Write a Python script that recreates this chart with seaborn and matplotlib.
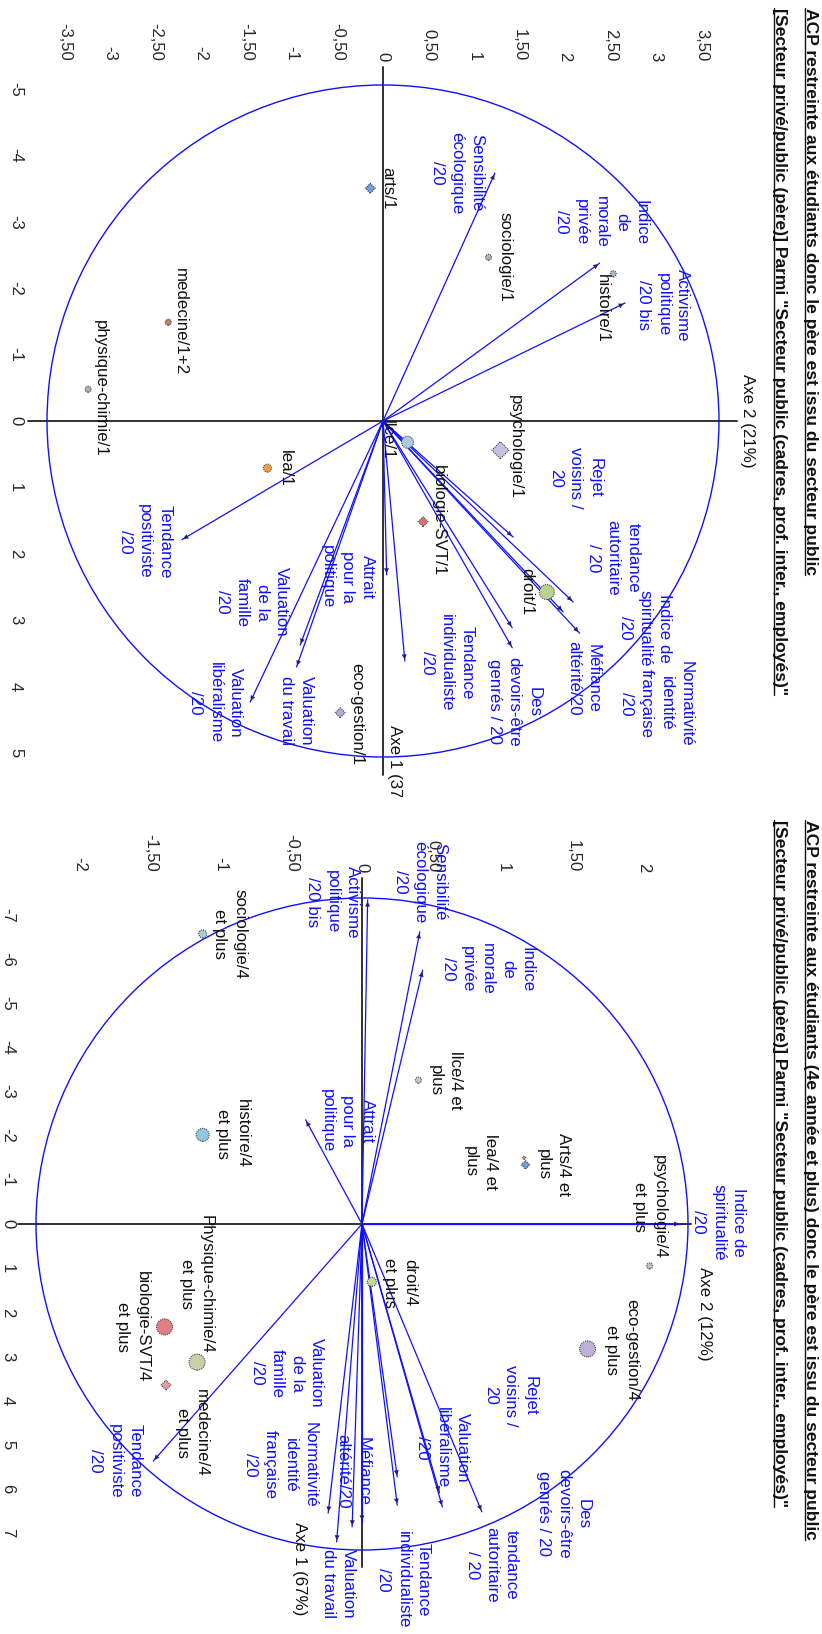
import numpy as np
import pandas as pd
import matplotlib
matplotlib.use("Agg")
import matplotlib.pyplot as plt
import seaborn as sns
from matplotlib.patches import Ellipse
from matplotlib.lines import Line2D

sns.set_style("white")
plt.rcParams["font.family"] = ["Liberation Sans", "DejaVu Sans"]

# ------------------------------------------------------------------ data
title_top = "ACP restreinte aux étudiants donc le père est issu du secteur public"
title_bot = "ACP restreinte aux étudiants (4e année et plus) donc le père est issu du secteur public"
subtitle = '[Secteur privé/public (père)] Parmi "Secteur public (cadres, prof. inter., employés)"'
axe1_top, axe2_top = "Axe 1 (37%)", "Axe 2 (21%)"
axe1_bot, axe2_bot = "Axe 1 (67%)", "Axe 2 (12%)"

var_names = ["Sensibilité\nécologique\n/20", "Indice\nde\nmorale\nprivée\n/20",
             "Activisme\npolitique\n/20 bis", "Tendance\npositiviste\n/20",
             "Attrait\npour la\npolitique", "Valuation\nde la\nfamille\n/20",
             "Valuation\ndu travail", "Valuation\nlibéralisme\n/20",
             "Tendance\nindividualiste\n/20", "Rejet\nvoisins /\n20",
             "tendance\nautoritaire\n/ 20", "Indice de\nspiritualité\n/20",
             "Normativité\nidentité\nfrançaise\n/20", "Méfiance\naltérité/20",
             "Des\ndevoirs-être\ngenrés / 20"]

# variable coordinates (Axe 2 , Axe 1) - plot 1
var_ax2_top = [1.23, 2.38, 2.66, -2.21, 0.04, -0.91, -0.95, -1.46, 0.24, 1.43, 2.09, 1.98, 1.42, 2.16, 1.42]
var_ax1_top = [-3.74, -2.38, -1.78, 1.79, 2.32, 3.38, 3.71, 4.24, 3.62, 1.75, 2.73, 2.88, 3.12, 3.20, 3.42]
# plot 2
var_ax2_bot = [0.41, 0.43, 0.04, -1.48, -0.40, -0.24, -0.18, 0.55, 0.25, 0.25, 0.85, 2.26, 0.00, -0.07, 0.57]
var_ax1_bot = [-6.62, -5.75, -7.34, 5.37, -2.36, 6.55, 7.20, 6.09, 6.37, 5.73, 6.52, 0.00, 6.75, 6.86, 6.41]

ind_top = ["arts/1", "sociologie/1", "histoire/1", "medecine/1+2", "physique-chimie/1",
           "psychologie/1", "llce/1", "lea/1", "biologie-SVT/1", "droit/1", "eco-gestion/1"]
ind_ax2_top = [-0.14, 1.16, 2.53, -2.36, -3.24, 1.29, 0.27, -1.27, 0.44, 1.80, -0.47]
ind_ax1_top = [-3.51, -2.47, -2.22, -1.49, -0.48, 0.44, 0.32, 0.71, 1.52, 2.58, 4.40]

ind_bot = ["sociologie/4\net plus", "histoire/4\net plus", "llce/4 et\nplus", "Arts/4 et\nplus",
           "lea/4 et\nplus", "psychologie/4\net plus", "eco-gestion/4\net plus", "droit/4\net plus",
           "Physique-chimie/4\net plus", "biologie-SVT/4\net plus", "medecine/4\net plus"]
ind_ax2_bot = [-1.13, -1.13, 0.40, 1.16, 1.15, 2.04, 1.60, 0.07, -1.17, -1.40, -1.39]
ind_ax1_bot = [-6.57, -2.02, -3.26, -1.34, -1.50, 0.95, 2.83, 1.31, 3.13, 2.33, 3.65]

ticks_ax2_top = [-3.5, -3, -2.5, -2, -1.5, -1, -0.5, 0, 0.5, 1, 1.5, 2, 2.5, 3, 3.5]
ticklab_ax2_top = ["-3,50", "-3", "-2,50", "-2", "-1,50", "-1", "-0,50", "0", "0,50", "1", "1,50", "2", "2,50", "3", "3,50"]
ticks_ax1_top = [-5, -4, -3, -2, -1, 0, 1, 2, 3, 4, 5]
ticks_ax2_bot = [-2, -1.5, -1, -0.5, 0, 0.5, 1, 1.5, 2]
ticklab_ax2_bot = ["-2", "-1,50", "-1", "-0,50", "0", "0,50", "1", "1,50", "2"]
ticks_ax1_bot = [-7, -6, -5, -4, -3, -2, -1, 0, 1, 2, 3, 4, 5, 6, 7]

# ------------------------------------------------------------------ styles / layout
W, H = 822, 1634
fig = plt.figure(figsize=(W / 100, H / 100), dpi=100)
BLUE = "#1010ff"
FS = 12.2

off_var_top = [(-38, 0), (2, -41), (38, 2), (-37, 2), (-39, 2), (-48, -43), (0, 44), (-35, 1), (42, 2),
               (62, -59), (40, -44), (82, 16), (144, 76), (4, 45), (2, 54)]
off_var_bot = [(0, -50), (65, -1), (-35, 2), (-38, 0), (42, 1), (-41, -140), (2, 42), (3, -45), (6, 75),
               (113, -81), (10, 53), (38, -2), (-82, -57), (1, -55), (121, 7)]
off_ind_top = [(17, 0), (16, 0), (-11, 35), (12, -1), (12, -1), (15, -3), (-20, -2), (18, 0), (15, -1), (-20, 0), (17, 1)]
off_ind_bot = [(27, 0), (30, -1), (27, 0), (28, 0), (-44, 4), (0, -59), (34, 1), (28, 1), (-1, -78), (-32, 0), (26, 48)]

col_top = ["#6fa0dc", "#b0b0b0", "#a8b8c8", "#c08070", "#a8b898", "#c8c0e0", "#b0c8e8", "#f0a040",
           "#e07070", "#b8d090", "#b8a8d8"]
size_top = [7, 6, 6, 6, 6, 12, 12, 8, 7, 15, 7]
mark_top = ["D", "o", "o", "o", "o", "D", "o", "o", "D", "o", "D"]
col_bot = ["#a8d0d0", "#90c8e0", "#c8c8c8", "#6f9fd8", "#f0a040", "#c0c0c0", "#c0b0d8", "#c8d890",
           "#c8d0a8", "#e08080", "#e0a0a0"]
size_bot = [8, 13, 6, 6, 3, 6, 16, 9, 16, 16, 7]
mark_bot = ["o", "o", "o", "D", "o", "o", "o", "o", "o", "o", "D"]


def make_axes(left, top, right, bottom, origin, scale):
    ax = fig.add_axes([left / W, 1 - bottom / H, (right - left) / W, (bottom - top) / H])
    ax.set_facecolor("none")
    ox, oy = origin
    sx, sy = scale
    ax.set_xlim((left - ox) / sx, (right - ox) / sx)
    ax.set_ylim((bottom - oy) / sy, (top - oy) / sy)
    for s in ax.spines.values():
        s.set_visible(False)
    return ax


def draw_panel(ax, v2, v1, offv, iv2, iv1, inames, offi, cols, sizes, marks,
               xt, xtl, yt, radii, hline, vline, ypad):
    # ticks
    ax.xaxis.tick_top()
    ax.set_xticks(xt, xtl)
    ax.set_yticks(yt, [str(t) for t in yt])
    ax.tick_params(axis="x", length=0, pad=2, labelsize=12, rotation=-90)
    ax.tick_params(axis="y", length=0, pad=ypad, labelsize=12, rotation=-90)
    for t in ax.get_yticklabels():
        t.set_va("center")
    # axes lines
    ax.plot(hline, [0, 0], color="#303030", lw=1.4, clip_on=False, zorder=1)
    ax.plot([0, 0], vline, color="#303030", lw=1.4, clip_on=False, zorder=1)
    # correlation circle
    ax.add_patch(Ellipse((0, 0), 2 * radii[0], 2 * radii[1], fill=False, ec=BLUE, lw=1.0, zorder=2))
    # variable arrows
    for x, y, name, (dx, dy) in zip(v2, v1, var_names, offv):
        ax.plot([0, x], [0, y], color=BLUE, lw=0.9, zorder=3)
        ax.annotate("", xy=(x, y), xytext=(0, 0),
                    arrowprops=dict(arrowstyle="-|>", fc="#202070", ec="none",
                                    mutation_scale=9, shrinkA=0, shrinkB=0), zorder=4)
        ax.annotate(name, xy=(x, y), xytext=(dx, -dy), textcoords="offset pixels",
                    rotation=-90, ha="center", va="center", color=BLUE, fontsize=FS,
                    linespacing=1.4, multialignment="center", zorder=5)
    # individuals
    df = pd.DataFrame({"ax2": iv2, "ax1": iv1, "name": inames})
    sns.scatterplot(data=df, x="ax2", y="ax1", hue="name", palette=dict(zip(inames, cols)),
                    style="name", markers=dict(zip(inames, marks)),
                    s=[(d * 0.72) ** 2 for d in sizes], edgecolor="#404040", linewidth=0.8,
                    linestyle=(0, (1, 1)), legend=False, ax=ax, zorder=6)
    for x, y, name, (dx, dy) in zip(iv2, iv1, inames, offi):
        ax.annotate(name, xy=(x, y), xytext=(dx, -dy), textcoords="offset pixels",
                    rotation=-90, ha="center", va="center", color="#111111", fontsize=FS,
                    linespacing=1.4, multialignment="center", zorder=7)
    ax.set_xlabel("")
    ax.set_ylabel("")


# ---- top panel
axT = make_axes(30, 64, 822, 797, (383, 421), (91, 66.3))
draw_panel(axT, var_ax2_top, var_ax1_top, off_var_top, ind_ax2_top, ind_ax1_top, ind_top, off_ind_top,
           col_top, size_top, mark_top, ticks_ax2_top, ticklab_ax2_top, ticks_ax1_top,
           (3.692, 5.068), [-3.90, 3.89], [-5.34, 5.34], 5)
axT.text(4.0, 0.0, axe2_top, rotation=-90, ha="center", va="center", fontsize=FS, color="#111111")
axT.text(0.13, 4.585, axe1_top, rotation=-90, ha="center", va="top", fontsize=FS, color="#111111",
         clip_on=True)

# ---- bottom panel
axB = make_axes(22, 875, 822, 1634, (362, 1224), (141, 44.14))
draw_panel(axB, var_ax2_bot, var_ax1_bot, off_var_bot, ind_ax2_bot, ind_ax1_bot, ind_bot, off_ind_bot,
           col_bot, size_bot, mark_bot, ticks_ax2_bot, ticklab_ax2_bot, ticks_ax1_bot,
           (2.312, 7.386), [-2.44, 2.33], [-7.84, 7.77], 5)
axB.text(2.43, 2.04, axe2_bot, rotation=-90, ha="center", va="center", fontsize=FS, color="#111111")
axB.text(-0.44, 7.82, axe1_bot, rotation=-90, ha="center", va="center", fontsize=FS, color="#111111")

# ---- titles (underlined)
titles = []
for txt, xpx, ypx in [(title_top, 810, 8), (subtitle, 779, 8), (title_bot, 810, 820), (subtitle, 779, 820)]:
    t = fig.text(xpx / W, 1 - ypx / H, txt, rotation=-90, ha="center", va="top",
                 fontsize=12.6, fontweight="bold", color="#111111")
    titles.append(t)

fig.canvas.draw()
renderer = fig.canvas.get_renderer()
for t in titles:
    bb = t.get_window_extent(renderer)
    x = (bb.x0 + 2) / W
    fig.add_artist(Line2D([x, x], [bb.y0 / H, bb.y1 / H], transform=fig.transFigure,
                          color="#111111", lw=1.0))

fig.savefig("out.png", dpi=100)
